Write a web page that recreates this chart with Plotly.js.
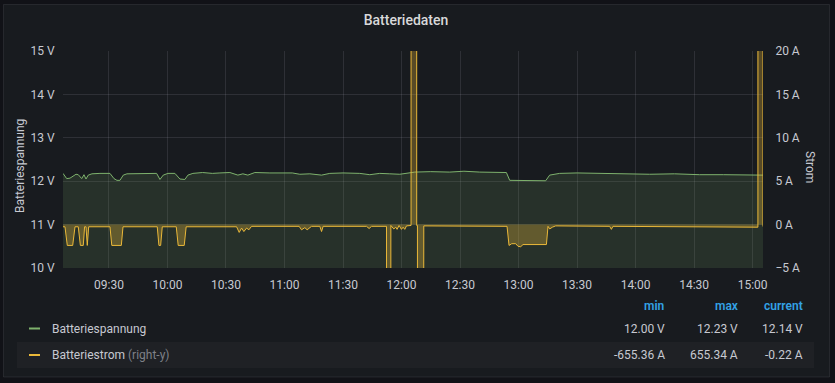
<!DOCTYPE html>
<html>
<head>
<meta charset="utf-8">
<script src="https://cdn.plot.ly/plotly-3.0.1.min.js"></script>
<style>
html,body{margin:0;padding:0;background:#111217;}
#chart{width:835px;height:383px;}
</style>
</head>
<body>
<div id="chart"></div>
<script>
const day = '2021-06-01';

const spannungTimes = ['09:06:26','09:08:20','09:10:01','09:11:33','09:13:05','09:14:16','09:16:01','09:17:11','09:18:13','09:19:23','09:21:17','09:25:23','09:30:31','09:32:34','09:34:06','09:35:38','09:37:20','09:39:13','09:45:53','09:50:00','09:54:26','09:56:08','09:57:49','10:00:14','10:03:49','10:06:23','10:08:56','10:10:29','10:13:02','10:18:00','10:23:00','10:26:53','10:32:00','10:36:06','10:38:40','10:41:13','10:44:48','10:52:30','11:00:00','11:04:00','11:07:52','11:13:00','11:19:00','11:23:14','11:30:00','11:38:36','11:43:44','11:48:51','11:54:00','11:59:07','12:06:48','12:15:00','12:24:43','12:32:00','12:40:06','12:47:00','12:53:46','12:55:28','13:03:09','13:10:50','13:13:54','13:15:57','13:21:05','13:30:00','13:41:35','13:55:00','14:07:12','14:20:00','14:32:48','14:45:00','14:54:52','15:05:20'];
const spannung = [12.18,12.06,12.07,12.12,12.16,12.15,12.06,12.15,12.05,12.14,12.17,12.18,12.18,12.06,12.02,12.02,12.14,12.17,12.18,12.19,12.18,12.04,12.14,12.18,12.18,12.05,12.04,12.14,12.18,12.20,12.18,12.19,12.20,12.14,12.17,12.14,12.20,12.19,12.18,12.19,12.16,12.17,12.14,12.18,12.19,12.18,12.15,12.18,12.17,12.16,12.21,12.22,12.21,12.23,12.21,12.21,12.20,12.02,12.01,12.00,12.01,12.14,12.18,12.19,12.18,12.17,12.16,12.17,12.15,12.15,12.14,12.14];

const stromTimes = ['09:06:26','09:07:27','09:08:38','09:11:24','09:12:35','09:14:16','09:15:20','09:16:50','09:17:30','09:18:13','09:18:53','09:19:36','09:30:31','09:31:27','09:36:20','09:37:12','09:54:45','09:55:37','09:56:30','09:57:20','10:04:30','10:05:30','10:08:35','10:09:35','10:35:26','10:36:46','10:38:00','10:39:10','10:40:34','10:41:44','10:43:07','11:07:30','11:08:44','11:10:26','11:11:36','11:13:51','11:18:07','11:19:00','11:19:48','11:42:03','11:43:23','11:44:36','11:52:18','11:52:28','11:54:22','11:54:32','11:56:02','11:57:04','11:57:44','11:58:45','11:59:58','12:00:48','12:01:40','12:02:32','12:04:53','12:05:03','12:07:37','12:07:47','12:08:10','12:08:20','12:11:15','12:11:25','12:54:06','12:55:07','12:56:30','12:58:33','12:59:43','13:01:06','13:02:17','13:14:17','13:15:06','13:15:58','13:17:21','13:19:02','13:46:43','13:47:35','13:48:24','15:02:43','15:02:53','15:05:10','15:05:20'];
const strom = [-0.25,-0.25,-2.4,-2.4,-0.25,-0.25,-2.4,-2.4,-0.25,-0.25,-2.4,-0.25,-0.25,-2.4,-2.4,-0.25,-0.25,-2.4,-2.4,-0.25,-0.25,-2.4,-2.4,-0.25,-0.25,-0.9,-0.4,-0.8,-0.4,-0.6,-0.2,-0.2,-0.6,-0.35,-0.6,-0.2,-0.2,-0.8,-0.2,-0.2,-0.45,-0.2,-0.2,-655.36,-655.36,-0.1,-0.5,-0.3,-0.55,-0.1,-0.55,-0.3,-0.55,-0.15,-0.1,655.34,655.34,-0.1,-0.1,-655.36,-655.36,-0.15,-0.2,-2.4,-2.2,-2.2,-2.5,-2.55,-2.3,-2.3,-0.2,-0.5,-0.3,-0.15,-0.2,-0.55,-0.2,-0.3,655.34,655.34,-0.22];

const seriesNames = ['Batteriespannung','Batteriestrom'];
const statHeaders = ['min','max','current'];
const statsSpannung = ['12.00 V','12.23 V','12.14 V'];
const statsStrom = ['-655.36 A','655.34 A','-0.22 A'];

const GREEN = '#7EB26D', YELLOW = '#EAB839';
const FONT = 'Roboto, "DejaVu Sans", sans-serif';
const TXT = '#c7c9d1';

// pixel -> paper helpers (plot area 63..763 x, 51..268 y)
const L = 63, R = 763, T = 51, B = 268;
const px = v => (v - L) / (R - L);
const py = v => (B - v) / (B - T);

const traces = [
  {
    x: spannungTimes.map(t => day + ' ' + t), y: spannung,
    type: 'scatter', mode: 'lines', name: seriesNames[0],
    line: {color: GREEN, width: 1}, fill: 'tozeroy', fillcolor: 'rgba(126,178,109,0.15)',
    yaxis: 'y'
  },
  {
    x: stromTimes.map(t => day + ' ' + t), y: strom,
    type: 'scatter', mode: 'lines', name: seriesNames[1],
    line: {color: YELLOW, width: 1}, fill: 'tozeroy', fillcolor: 'rgba(234,184,57,0.3)',
    yaxis: 'y2'
  }
];

const ann = [];
const mk = (x, y, text, o) => Object.assign({xref:'paper', yref:'paper', x: px(x), y: py(y), text, showarrow:false, xanchor:'center', yanchor:'middle', font:{family:FONT, size:12, color:TXT}}, o||{});
ann.push(mk(20, 166, 'Batteriespannung', {textangle:-90}));
ann.push(mk(810, 167, 'Strom', {textangle:90}));
const colRight = [667, 739.5, 805];
statHeaders.forEach((h,i) => ann.push(mk(colRight[i], 306, h, {xanchor:'right', font:{family:FONT, size:12, color:'#33a2e5', weight:600}})));
ann.push(mk(50, 328.5, seriesNames[0], {xanchor:'left'}));
ann.push(mk(50, 355, seriesNames[1] + ' <span style="color:#7e8088">(right-y)</span>', {xanchor:'left'}));
statsSpannung.forEach((s,i) => ann.push(mk(colRight[i], 328.5, s, {xanchor:'right'})));
statsStrom.forEach((s,i) => ann.push(mk(colRight[i], 355, s, {xanchor:'right'})));

const shapes = [
  {type:'rect', xref:'paper', yref:'paper', x0:px(3.5), x1:px(829.5), y0:py(377), y1:py(4.5), fillcolor:'#181b1f', line:{color:'rgba(204,204,220,0.10)', width:1}, layer:'below'},
  {type:'rect', xref:'paper', yref:'paper', x0:px(17), x1:px(814), y0:py(368), y1:py(342), fillcolor:'#1f2125', line:{width:0}, layer:'below'},
  {type:'line', xref:'paper', yref:'paper', x0:px(29), x1:px(40), y0:py(328.5), y1:py(328.5), line:{color:GREEN, width:2}},
  {type:'line', xref:'paper', yref:'paper', x0:px(29), x1:px(40), y0:py(355), y1:py(355), line:{color:YELLOW, width:2}}
];

const grid = 'rgba(204,204,220,0.12)';
const layout = {
  width: 835, height: 383,
  margin: {l: L, r: 835 - R, t: T, b: 383 - B},
  paper_bgcolor: '#111217', plot_bgcolor: 'rgba(0,0,0,0)',
  showlegend: false,
  title: {text: 'Batteriedaten', x: 406/835, xref:'container', y: 1 - 20/383, yref:'container', xanchor:'center', yanchor:'middle', font:{family:FONT, size:14, color:'#d8d9da', weight:500}},
  xaxis: {
    type:'date', range:[day+' 09:06:26', day+' 15:05:20'], tick0: day+' 09:30:00', dtick: 1800000,
    tickformat:'%H:%M', showgrid:true, gridcolor:grid, zeroline:false, showline:false,
    ticks:'outside', ticklen:6, tickcolor:'rgba(0,0,0,0)', tickfont:{family:FONT, size:12, color:TXT}
  },
  yaxis: {
    range:[10,15], dtick:1, ticksuffix:' V', showgrid:true, gridcolor:grid, zeroline:false, showline:false,
    ticks:'outside', ticklen:5, tickcolor:'rgba(0,0,0,0)', tickfont:{family:FONT, size:12, color:TXT}
  },
  yaxis2: {
    overlaying:'y', side:'right', range:[-5,20], dtick:5, ticksuffix:' A', showgrid:false, zeroline:false, showline:false,
    ticks:'outside', ticklen:9, tickcolor:'rgba(0,0,0,0)', tickfont:{family:FONT, size:12, color:TXT}
  },
  annotations: ann,
  shapes: shapes
};

Plotly.newPlot('chart', traces, layout, {staticPlot:true, displayModeBar:false});
</script>
</body>
</html>
